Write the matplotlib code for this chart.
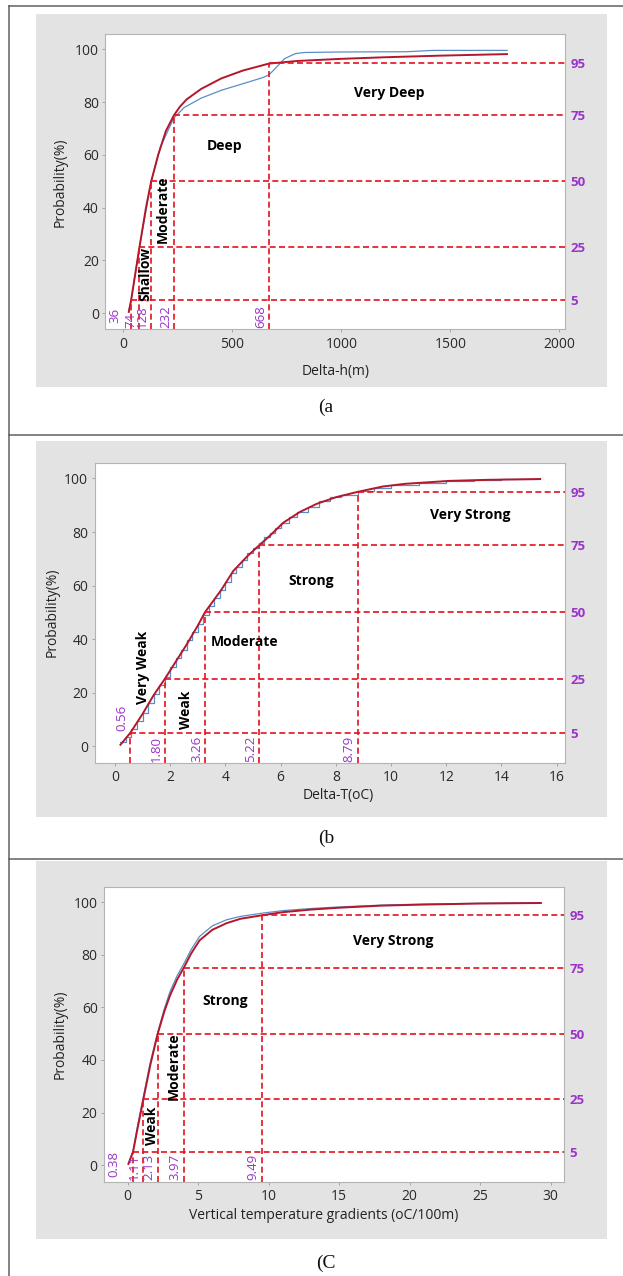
import matplotlib
matplotlib.use('Agg')
import matplotlib.pyplot as plt
import matplotlib.transforms as mtransforms
from matplotlib.patches import Rectangle
from matplotlib.lines import Line2D

plt.rcParams['font.family'] = ['Open Sans', 'DejaVu Sans']

# ---------------- data ----------------
# Panel (a) Delta-h (m)
a_red_x = [25, 36, 55, 74, 104, 128, 160, 195, 232, 260, 290, 357, 450, 550, 668, 800, 1000, 1200, 1450, 1760]
a_red_y = [0.5, 5, 15, 25, 40, 50, 60, 69, 75, 78.3, 81, 85, 89, 92, 94.6, 95.6, 96.4, 97, 97.6, 98.2]
a_blue_x = [25, 36, 74, 128, 170, 232, 280, 357, 450, 550, 640, 668, 700, 740, 790, 830, 1000, 1300, 1420, 1760]
a_blue_y = [0.5, 5, 25, 50, 63, 74, 78, 81.5, 84.5, 87, 89.3, 90.3, 93, 96.5, 98.4, 98.8, 99.0, 99.1, 99.6, 99.6]
a_cuts = [36, 74, 128, 232, 668]
a_cut_labels = ['36', '74', '128', '232', '668']

# Panel (b) Delta-T (oC)
b_red_x = [0.2, 0.56, 1.0, 1.4, 1.8, 2.2, 2.6, 3.0, 3.26, 3.86, 4.29, 4.8, 5.22, 5.6, 6.1, 6.7, 7.3, 8.0, 8.79, 9.7, 10.5, 12.1, 13.5, 15.4]
b_red_y = [0.5, 5, 12, 19, 25, 31.5, 38, 45, 50, 58.5, 65.5, 71, 75, 78.5, 83.5, 87.5, 90.5, 93, 95, 97, 98, 99.1, 99.5, 99.8]
b_blue_x = [0.2, 0.4, 0.6, 0.8, 1.0, 1.2, 1.4, 1.6, 1.8, 2.0, 2.2, 2.4, 2.6, 2.8, 3.0, 3.2, 3.4, 3.6, 3.8, 4.0,
            4.2, 4.4, 4.6, 4.8, 5.0, 5.2, 5.4, 5.6, 5.8, 6.0, 6.3, 6.6, 7.0, 7.4, 7.8, 8.2, 8.8, 9.4, 10.0, 11.0,
            12.0, 13.0, 14.0, 15.4]
b_blue_y = [1.5, 3.5, 6.5, 9.5, 12.5, 16, 19.5, 23, 26, 29.5, 33, 36, 39.5, 42.5, 45.5, 49, 52.5, 55.5, 58.5, 61.5,
            64.5, 67, 69.5, 72, 74, 76, 78, 79.5, 81.5, 83.5, 85.5, 87.5, 89.5, 91.5, 93, 94, 95.5, 96.5, 97.5, 98.5,
            99.1, 99.5, 99.7, 100]
b_cuts = [0.56, 1.80, 3.26, 5.22, 8.79]
b_cut_labels = ['0.56', '1.80', '3.26', '5.22', '8.79']

# Panel (c) Vertical temperature gradients (oC/100m)
c_red_x = [0.05, 0.38, 0.7, 1.11, 1.6, 2.13, 2.6, 3.0, 3.5, 3.97, 4.5, 5.1, 6.0, 7.0, 8.0, 9.49, 11, 13, 15, 18, 21, 25, 29.3]
c_red_y = [0.5, 5, 14, 25, 38, 50, 58.5, 64.5, 70.5, 75, 80.5, 85.5, 89.5, 92, 93.7, 95, 96.2, 97.2, 97.9, 98.7, 99.1, 99.5, 99.7]
c_blue_x = [0.05, 0.38, 0.7, 1.11, 1.6, 2.13, 2.6, 3.0, 3.5, 3.97, 4.5, 5.1, 6.0, 7.0, 8.0, 9.49, 11, 13, 15, 18, 21, 25, 29.3]
c_blue_y = [0.5, 5.5, 15, 26, 39, 50.5, 59.5, 66, 72, 76.5, 82, 87, 91, 93.3, 94.6, 95.8, 96.8, 97.6, 98.2, 98.9, 99.3, 99.6, 99.8]
c_cuts = [0.38, 1.11, 2.13, 3.97, 9.49]
c_cut_labels = ['0.38', '1.11', '2.13', '3.97', '9.49']

levels = [5, 25, 50, 75, 95]
level_labels = ['5', '25', '50', '75', '95']
y_ticks = [0, 20, 40, 60, 80, 100]

a_xticks = [0, 500, 1000, 1500, 2000]
b_xticks = [0, 2, 4, 6, 8, 10, 12, 14, 16]
c_xticks = [0, 5, 10, 15, 20, 25, 30]

a_classes = ['Shallow', 'Moderate', 'Deep', 'Very Deep']
b_classes = ['Very Weak', 'Weak', 'Moderate', 'Strong', 'Very Strong']
c_classes = ['Weak', 'Moderate', 'Strong', 'Very Strong']

# ---------------- layout / style ----------------
W, H = 623, 1276
fig = plt.figure(figsize=(W / 100, H / 100), dpi=100)
fig.patch.set_facecolor('white')

RED = '#b3172c'
BLUE = '#5b8dc4'
DASH = '#e3121f'
PURPLE = '#9a34c9'
GRAY_BG = '#e3e3e3'
FRAME = '#606060'


def fx(x):
    return x / W


def fy(y):
    return 1 - y / H


# outer frame lines
for (x0, y0, x1, y1) in [(8.7, 5.7, 623, 5.7), (8.7, 5.7, 8.7, 1276), (8.7, 435, 623, 435), (8.7, 859.3, 623, 859.3)]:
    fig.add_artist(Line2D([fx(x0), fx(x1)], [fy(y0), fy(y1)], transform=fig.transFigure,
                          color=FRAME, lw=1.1))

panels = [
    dict(gray=(36, 14.5, 607, 387.5), ax=(105, 34.3, 565, 329.3), xlim=(-84, 2026), ylim=(-6.1, 105.7),
         xticks=a_xticks, red=(a_red_x, a_red_y), blue=(a_blue_x, a_blue_y), blue_step=False,
         cuts=a_cuts, cut_labels=a_cut_labels,
         cut_lab_off=[-16, -8.5, -8.5, -8.5, -8.5], cut_lab_y=[-3.8, -5.6, -5.6, -5.6, -5.6],
         classes=a_classes, class_pos=[(103, 15, 90), (180, 39.5, 90), (465, 63.5, 0), (1219, 83.5, 0)],
         xlabel='Delta-h(m)', xlab=(0.502, -0.144), ylab=-0.098, caption='(a', cap_y=407),
    dict(gray=(36, 440.7, 607, 816.7), ax=(94.5, 462.7, 565, 762.7), xlim=(-0.74, 16.3), ylim=(-6.2, 105.9),
         xticks=b_xticks, red=(b_red_x, b_red_y), blue=(b_blue_x, b_blue_y), blue_step=True,
         cuts=b_cuts, cut_labels=b_cut_labels,
         cut_lab_off=[-9, -8.5, -8.5, -8.5, -8.5], cut_lab_y=[5.5, -5.8, -5.8, -5.8, -5.8],
         classes=b_classes, class_pos=[(1.0, 29.5, 90), (2.57, 13.5, 90), (4.71, 39, 0), (7.1, 61.7, 0),
                                       (12.86, 86.3, 0)],
         xlabel='Delta-T(oC)', xlab=(0.5175, -0.108), ylab=-0.090, caption='(b', cap_y=838),
    dict(gray=(36, 860.5, 607, 1239.3), ax=(104, 886.7, 564, 1181.7), xlim=(-1.68, 30.94), ylim=(-6.3, 105.9),
         xticks=c_xticks, red=(c_red_x, c_red_y), blue=(c_blue_x, c_blue_y), blue_step=False,
         cuts=c_cuts, cut_labels=c_cut_labels,
         cut_lab_off=[-19, -9, -9, -9, -9], cut_lab_y=[-4.6, -5.8, -5.8, -5.8, -5.8],
         classes=c_classes, class_pos=[(1.7, 15, 90), (3.3, 37.7, 90), (6.9, 62.5, 0), (18.84, 85.4, 0)],
         xlabel='Vertical temperature gradients (oC/100m)', xlab=(0.478, -0.113), ylab=-0.0957,
         caption='(C', cap_y=1263),
]

for p in panels:
    gx0, gy0, gx1, gy1 = p['gray']
    fig.add_artist(Rectangle((fx(gx0), fy(gy1)), fx(gx1 - gx0), (gy1 - gy0) / H,
                             transform=fig.transFigure, facecolor=GRAY_BG, edgecolor='none', zorder=0))
    x0, y0, x1, y1 = p['ax']
    ax = fig.add_axes([fx(x0), fy(y1), fx(x1 - x0), (y1 - y0) / H])
    ax.set_facecolor('white')
    ax.set_xlim(*p['xlim'])
    ax.set_ylim(*p['ylim'])
    ax.set_xticks(p['xticks'])
    ax.set_yticks(y_ticks)
    for s in ax.spines.values():
        s.set_color('#b4b4b4')
        s.set_linewidth(0.8)
    ax.tick_params(axis='both', direction='out', length=2.5, width=0.6, color='#9a9a9a',
                   labelsize=10, labelcolor='#2a2a2a')
    ax.tick_params(axis='y', pad=2)
    ax.tick_params(axis='x', pad=3)

    # curves
    bx, by = p['blue']
    if p['blue_step']:
        ax.plot(bx, by, color=BLUE, lw=0.9, drawstyle='steps-post', zorder=2)
    else:
        ax.plot(bx, by, color=BLUE, lw=0.9, zorder=2)
    rx, ry = p['red']
    ax.plot(rx, ry, color=RED, lw=1.4, zorder=2.5)

    # threshold dashed lines
    xmax = p['xlim'][1]
    ymin = p['ylim'][0]
    for cut, lev in zip(p['cuts'], levels):
        ax.plot([cut, xmax], [lev, lev], color=DASH, lw=1.2, ls=(0, (3.6, 2.0)), zorder=3, clip_on=False)
        ax.plot([cut, cut], [ymin, lev], color=DASH, lw=1.2, ls=(0, (3.6, 2.0)), zorder=3)

    # cut labels (purple, rotated)
    for cut, lab, off, yb in zip(p['cuts'], p['cut_labels'], p['cut_lab_off'], p['cut_lab_y']):
        tr = ax.transData + mtransforms.ScaledTranslation(off / 100, 0, fig.dpi_scale_trans)
        ax.text(cut, yb, lab, transform=tr, rotation=90, ha='center', va='bottom',
                color=PURPLE, fontsize=9.5, zorder=4)

    # class labels
    for name, (tx, ty, rot) in zip(p['classes'], p['class_pos']):
        ax.text(tx, ty, name, rotation=rot, ha='center', va='center', fontsize=10,
                fontweight='bold', color='black', zorder=5)

    # right axis with percentile levels
    ax2 = ax.twinx()
    ax2.set_ylim(*p['ylim'])
    ax2.set_yticks(levels)
    ax2.set_yticklabels(level_labels)
    ax2.tick_params(axis='y', length=0, pad=4, labelsize=9.5, labelcolor=PURPLE)
    for lab in ax2.get_yticklabels():
        lab.set_fontweight('bold')
    for s in ax2.spines.values():
        s.set_visible(False)

    # axis labels
    ax.set_xlabel(p['xlabel'], fontsize=10, color='#222222')
    ax.xaxis.set_label_coords(*p['xlab'])
    ax.xaxis.label.set_va('center')
    ax.set_ylabel('Probability(%)', fontsize=10, color='#222222')
    ax.yaxis.set_label_coords(p['ylab'], 0.5)
    ax.yaxis.label.set_va('center')

    fig.text(fx(326), fy(p['cap_y']), p['caption'], ha='center', va='center',
             fontsize=14, family=['Liberation Serif', 'DejaVu Serif'], color='#111111')

fig.savefig('out.png', dpi=100, facecolor='white')
